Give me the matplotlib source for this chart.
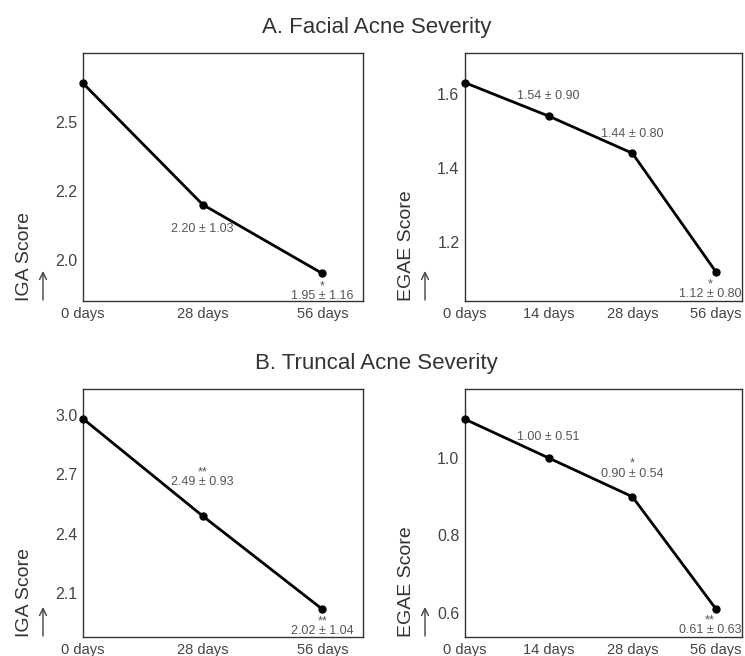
import matplotlib
matplotlib.use("Agg")
import matplotlib.pyplot as plt
from matplotlib.ticker import FormatStrFormatter

plt.rcParams['font.family'] = ['Liberation Sans', 'DejaVu Sans']

# ---- data ----
days3 = ['0 days', '28 days', '56 days']
days4 = ['0 days', '14 days', '28 days', '56 days']

facial_iga = [2.64, 2.20, 1.95]
facial_egae = [1.63, 1.54, 1.44, 1.12]
truncal_iga = [2.98, 2.49, 2.02]
truncal_egae = [1.10, 1.00, 0.90, 0.61]

facial_iga_ticks = [2.0, 2.25, 2.5]
facial_egae_ticks = [1.2, 1.4, 1.6]
truncal_iga_ticks = [2.1, 2.4, 2.7, 3.0]
truncal_egae_ticks = [0.6, 0.8, 1.0]

facial_iga_lim = (1.85, 2.75)
facial_egae_lim = (1.042, 1.71)
truncal_iga_lim = (1.88, 3.13)
truncal_egae_lim = (0.538, 1.178)

# annotations: (point index, text, dx px, dy px)
facial_iga_ann = [(1, '2.20 ± 1.03', 0, -24), (2, '*\n1.95 ± 1.16', 0, -18)]
facial_egae_ann = [(1, '1.54 ± 0.90', 0, 20), (2, '1.44 ± 0.80', 0, 19),
                   (3, '*\n1.12 ± 0.80', -6, -17)]
truncal_iga_ann = [(1, '**\n2.49 ± 0.93', 0, 39), (2, '**\n2.02 ± 1.04', 0, -17)]
truncal_egae_ann = [(1, '1.00 ± 0.51', 0, 21), (2, '*\n0.90 ± 0.54', 0, 28),
                    (3, '**\n0.61 ± 0.63', -6, -16)]

W, H = 745, 656
fig = plt.figure(figsize=(W / 100, H / 100), dpi=100)

def make_ax(px_left, px_top, px_w, px_h):
    return fig.add_axes([px_left / W, 1 - (px_top + px_h) / H, px_w / W, px_h / H])

panels = [
    (make_ax(83, 53, 280, 248), days3, facial_iga, facial_iga_ticks, facial_iga_lim, facial_iga_ann, 'IGA Score', 2.34),
    (make_ax(465, 53, 277, 248), days4, facial_egae, facial_egae_ticks, facial_egae_lim, facial_egae_ann, 'EGAE Score', 3.31),
    (make_ax(83, 389, 280, 248), days3, truncal_iga, truncal_iga_ticks, truncal_iga_lim, truncal_iga_ann, 'IGA Score', 2.34),
    (make_ax(465, 389, 277, 248), days4, truncal_egae, truncal_egae_ticks, truncal_egae_lim, truncal_egae_ann, 'EGAE Score', 3.31),
]

dark = '#333333'
tick_col = '#444444'
ann_col = '#555555'

for ax, cats, vals, ticks, lim, anns, ylab, xmax in panels:
    x = list(range(len(cats)))
    ax.plot(x, vals, color='black', lw=2.0, marker='o', ms=5, clip_on=False, zorder=3)
    ax.set_xlim(0, xmax)
    ax.set_ylim(*lim)
    ax.set_xticks(x)
    ax.set_xticklabels(cats)
    ax.set_yticks(ticks)
    ax.yaxis.set_major_formatter(FormatStrFormatter('%.1f'))
    ax.tick_params(axis='x', length=0, pad=4, labelsize=10.5, labelcolor=tick_col)
    ax.tick_params(axis='y', length=0, pad=4, labelsize=11.5, labelcolor=tick_col)
    for s in ax.spines.values():
        s.set_color(dark)
        s.set_linewidth(1.0)
    ax.set_ylabel(ylab, loc='bottom', fontsize=14, color=dark, labelpad=16)
    # upward arrow next to the axis label
    ax.annotate('', xy=(-40, 30), xytext=(-40, 1), xycoords='axes pixels',
                textcoords='axes pixels', annotation_clip=False,
                arrowprops=dict(arrowstyle='->,head_length=0.5,head_width=0.25',
                                color='#444444', lw=1.0, shrinkA=0, shrinkB=0))
    for i, txt, dx, dy in anns:
        ax.annotate(txt, xy=(x[i], vals[i]), xytext=(dx, dy), textcoords='offset pixels',
                    ha='center', va='center', fontsize=9, color=ann_col,
                    linespacing=0.75, annotation_clip=False)

fig.text(377 / W, 1 - 28 / H, 'A. Facial Acne Severity', ha='center', va='center',
         fontsize=16, color=dark)
fig.text(376 / W, 1 - 363 / H, 'B. Truncal Acne Severity', ha='center', va='center',
         fontsize=16, color=dark)

fig.savefig('out.png', dpi=100)
